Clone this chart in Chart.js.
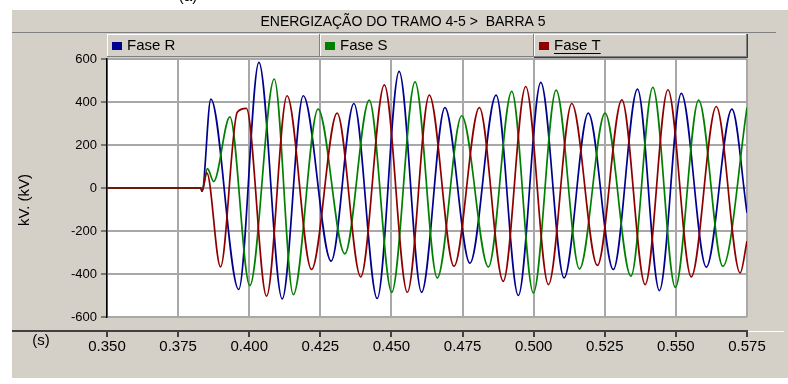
<!DOCTYPE html>
<html>
<head>
<meta charset="utf-8">
<title>Energização do tramo 4-5</title>
<script src="https://cdn.jsdelivr.net/npm/chart.js@4.4.0/dist/chart.umd.min.js"></script>
<style>
  html, body { margin: 0; padding: 0; background: #fff; }
  #wrap { position: relative; width: 788px; height: 384px; }
</style>
</head>
<body>
<div id="wrap"><canvas id="chart" width="788" height="384"></canvas></div>
<script>
// chart texts
const chartTitle = "ENERGIZAÇÃO DO TRAMO 4-5 >  BARRA 5";
const yAxisTitle = "kV. (kV)";
const xAxisTitle = "(s)";
const seriesNames = ["Fase R", "Fase S", "Fase T"];
const seriesColors = ["#00008F", "#008000", "#8E0000"];

// tick labels
const xTickValues = [0.350, 0.375, 0.400, 0.425, 0.450, 0.475, 0.500, 0.525, 0.550, 0.575];
const yTickValues = [-600, -400, -200, 0, 200, 400, 600];

// Fase R (time in s, voltage in kV), read at the peaks and valleys
const timeR = [0.350, 0.3830, 0.3834, 0.3865, 0.3963, 0.4034, 0.4116, 0.4190, 0.4288, 0.4368,
  0.4450, 0.4527, 0.4606, 0.4688, 0.4776, 0.4868, 0.4946, 0.5025, 0.5107, 0.5192,
  0.5280, 0.5365, 0.5442, 0.5519, 0.5607, 0.5697, 0.5750];
const voltR = [0, 0, -15, 413, -472, 584, -516, 429, -340, 393,
  -514, 542, -485, 374, -350, 432, -500, 491, -418, 348,
  -379, 460, -477, 440, -368, 367, -115];

// Fase S
const timeS = [0.350, 0.3830, 0.3834, 0.3853, 0.3875, 0.3932, 0.4002, 0.4088, 0.4155, 0.4242,
  0.4336, 0.4422, 0.4501, 0.4583, 0.4661, 0.4747, 0.4841, 0.4923, 0.4999, 0.5079,
  0.5161, 0.5251, 0.5342, 0.5419, 0.5498, 0.5580, 0.5665, 0.5750];
const voltS = [0, 0, -15, 90, 30, 331, -454, 507, -496, 367,
  -306, 409, -485, 494, -418, 336, -367, 449, -488, 455,
  -376, 348, -410, 468, -462, 409, -364, 374];

// Fase T
const timeT = [0.350, 0.3830, 0.3834, 0.3851, 0.3899, 0.3958, 0.3990, 0.4061, 0.4133, 0.4219,
  0.4309, 0.4392, 0.4475, 0.4556, 0.4633, 0.4720, 0.4809, 0.4893, 0.4972, 0.5052,
  0.5134, 0.5224, 0.5310, 0.5392, 0.5472, 0.5554, 0.5642, 0.5726, 0.5750];
const voltT = [0, 0, -15, 70, -367, 352, 370, -503, 429, -379,
  348, -413, 480, -485, 432, -364, 374, -434, 472, -449,
  393, -360, 410, -449, 457, -413, 379, -395, -247];

const FONT = "'Liberation Sans', Arial, sans-serif";
const GRAY = "#D4D0C8";
Chart.defaults.font.family = FONT;
Chart.defaults.color = "#000";

function toPoints(times, volts) {
  return times.map((t, i) => ({ x: t, y: volts[i] }));
}

// draws the window frame, title bar and legend boxes
const framePlugin = {
  id: "frame",
  beforeDraw(chart) {
    const ctx = chart.ctx;
    const a = chart.chartArea;
    ctx.save();
    ctx.fillStyle = "#fff";
    ctx.fillRect(0, 0, chart.width, chart.height);
    ctx.fillStyle = GRAY;
    ctx.fillRect(12, 10, chart.width - 12, 368);

    // title bar
    ctx.fillStyle = "#fff";
    ctx.fillRect(12, 9, 762, 1);
    ctx.fillStyle = "#808080";
    ctx.fillRect(12, 32, 764, 1);
    ctx.fillStyle = "#000";
    ctx.font = "14px " + FONT;
    ctx.textAlign = "center";
    ctx.textBaseline = "middle";
    ctx.fillText(chartTitle, 403, 22);

    // legend boxes
    const boxW = (a.right - a.left) / 3;
    for (let i = 0; i < 3; i++) {
      const x0 = Math.round(a.left + i * boxW);
      const x1 = Math.round(a.left + (i + 1) * boxW);
      ctx.fillStyle = "#fff";
      ctx.fillRect(x0, 34, x1 - x0, 1);
      ctx.fillRect(x0, 34, 1, 23);
      ctx.fillStyle = "#808080";
      ctx.fillRect(x1 - 1, 34, 1, 23);
      ctx.fillRect(x0, 56, x1 - x0, 1);
      if (i === 2) {
        ctx.fillStyle = "#404040";
        ctx.fillRect(x1, 34, 1, 24);
        ctx.fillRect(x0, 57, x1 - x0 + 1, 1);
      }
      ctx.fillStyle = chart.data.datasets[i].borderColor;
      ctx.fillRect(x0 + 5, 42, 10, 8);
      ctx.fillStyle = "#000";
      ctx.font = "15px " + FONT;
      ctx.textAlign = "left";
      ctx.textBaseline = "middle";
      ctx.fillText(chart.data.datasets[i].label, x0 + 20, 46);
      if (i === 2) {
        const w = ctx.measureText(chart.data.datasets[i].label).width;
        ctx.fillRect(x0 + 20, 53, w, 1);
      }
    }

    // white plot area
    ctx.fillStyle = "#fff";
    ctx.fillRect(a.left, a.top, a.right - a.left, a.bottom - a.top);
    ctx.restore();
  },
  afterDraw(chart) {
    const ctx = chart.ctx;
    const a = chart.chartArea;
    const xs = chart.scales.x;
    ctx.save();
    // separate time axis line with ticks
    ctx.fillStyle = "#404040";
    ctx.fillRect(12, 330, a.right - 12, 2);
    ctx.fillStyle = "#fff";
    ctx.fillRect(a.right, 331, chart.width - a.right - 4, 1);
    ctx.fillStyle = "#404040";
    xs.ticks.forEach(t => {
      const px = Math.round(xs.getPixelForValue(t.value));
      ctx.fillRect(px - 1, 330, 2, 7);
    });

    // axis titles
    ctx.fillStyle = "#000";
    ctx.font = "15px " + FONT;
    ctx.textAlign = "center";
    ctx.textBaseline = "middle";
    ctx.fillText(xAxisTitle, 41, 341);
    ctx.translate(25, 200);
    ctx.rotate(-Math.PI / 2);
    ctx.fillText(yAxisTitle, 0, 0);
    ctx.restore();

    // cut caption at the very top
    ctx.save();
    ctx.fillStyle = "#000";
    ctx.font = "15px " + FONT;
    ctx.textAlign = "center";
    ctx.textBaseline = "alphabetic";
    ctx.fillText("(a)", 188, 1);
    ctx.restore();
  }
};

const ctx = document.getElementById("chart").getContext("2d");
const chart = new Chart(ctx, {
  type: "line",
  data: {
    datasets: [
      { label: seriesNames[0], data: toPoints(timeR, voltR), borderColor: seriesColors[0], order: 3 },
      { label: seriesNames[1], data: toPoints(timeS, voltS), borderColor: seriesColors[1], order: 2 },
      { label: seriesNames[2], data: toPoints(timeT, voltT), borderColor: seriesColors[2], order: 1 }
    ]
  },
  options: {
    responsive: false,
    animation: false,
    events: [],
    devicePixelRatio: 1,
    layout: { padding: { top: 59, right: 41, left: 0, bottom: 0 } },
    elements: {
      line: { borderWidth: 1.7, cubicInterpolationMode: "monotone", fill: false },
      point: { radius: 0 }
    },
    plugins: {
      legend: { display: false },
      title: { display: false },
      tooltip: { enabled: false }
    },
    scales: {
      x: {
        type: "linear",
        min: 0.35,
        max: 0.575,
        afterBuildTicks: scale => { scale.ticks = xTickValues.map(v => ({ value: v })); },
        afterFit: scale => { scale.height = 67; },
        grid: { color: "#A8A8A8", lineWidth: 2, drawTicks: false },
        border: { display: false },
        ticks: {
          padding: 21,
          font: { size: 15 },
          color: "#000",
          maxRotation: 0,
          autoSkip: false,
          callback: v => v.toFixed(3)
        }
      },
      y: {
        min: -600,
        max: 600,
        afterBuildTicks: scale => { scale.ticks = yTickValues.map(v => ({ value: v })); },
        afterFit: scale => { scale.width = 107; },
        grid: { color: "#A8A8A8", lineWidth: 2, tickColor: "#202020", tickLength: 6, tickWidth: 1 },
        border: { display: true, color: "#000", width: 1.5 },
        ticks: { padding: 4, font: { size: 13 }, color: "#000" }
      }
    }
  },
  plugins: [framePlugin]
});
</script>
</body>
</html>
